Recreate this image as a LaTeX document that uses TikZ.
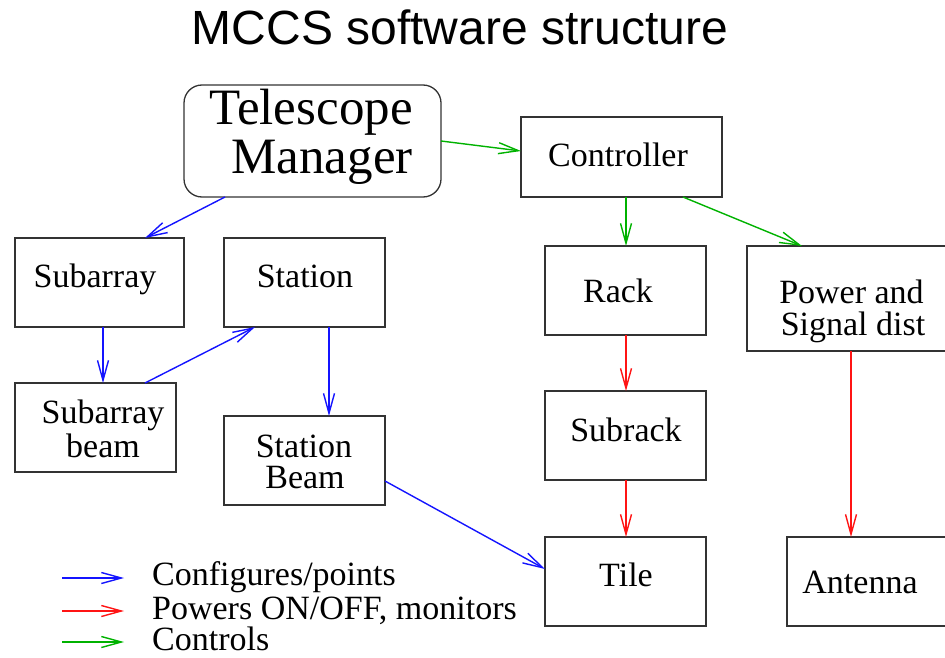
\documentclass[tikz,border=0pt]{standalone}
\usepackage{fontspec}
\setmainfont{Liberation Serif}
\newfontfamily\titlefont{Liberation Sans}
\usetikzlibrary{arrows.meta}
\definecolor{cfgblue}{RGB}{20,20,255}
\definecolor{pwrred}{RGB}{255,20,20}
\definecolor{ctlgreen}{RGB}{0,178,0}
\begin{document}
\begin{tikzpicture}[x=1pt,y=-1pt,
  box/.style={draw=black!80,line width=1.3pt,inner sep=0pt,outer sep=0pt},
  lbl/.style={anchor=base,inner sep=0pt,font=\fontsize{34}{34}\selectfont},
  biglbl/.style={anchor=base,inner sep=0pt,font=\fontsize{51}{51}\selectfont},
  link/.style={line width=1.4pt,-{Straight Barb[length=20pt,width=11pt,line width=1.4pt]}},
  cfg/.style={link,draw=cfgblue},
  pwr/.style={link,draw=pwrred},
  ctl/.style={link,draw=ctlgreen}]
\useasboundingbox (0,0) rectangle (945,658);
\clip (0,0) rectangle (945,658);

% title
\node[anchor=base,inner sep=0pt,font=\titlefont\fontsize{48}{48}\selectfont] (title) at (460,45) {MCCS software structure};

% boxes
\node[box,rounded corners=18pt,minimum width=257pt,minimum height=112pt] (tm) at (312.5,141) {};
\node[box,minimum width=201pt,minimum height=80pt] (ctrl) at (621.5,157) {};
\node[box,minimum width=169pt,minimum height=89pt] (sub) at (99.5,282.5) {};
\node[box,minimum width=161pt,minimum height=89pt] (sta) at (304.5,282.5) {};
\node[box,minimum width=161pt,minimum height=89pt] (subb) at (95.5,427.5) {};
\node[box,minimum width=161pt,minimum height=89pt] (stab) at (304.5,460.5) {};
\node[box,minimum width=161pt,minimum height=89pt] (rack) at (625.5,290.5) {};
\node[box,minimum width=161pt,minimum height=89pt] (subr) at (625.5,435.5) {};
\node[box,minimum width=161pt,minimum height=89pt] (tile) at (625.5,581.5) {};
\node[box,minimum width=205pt,minimum height=105pt] (pow) at (849.5,298.5) {};
\node[box,minimum width=165pt,minimum height=89pt] (ant) at (869.5,581.5) {};

% box texts
\node[biglbl] (tmA) at (311,125) {Telescope};
\node[biglbl] (tmB) at (322,173) {Manager};
\node[lbl] (ctrlT) at (618,166) {Controller};
\node[lbl] (subT) at (95,287) {Subarray};
\node[lbl] (staT) at (305,287) {Station};
\node[lbl] (subbA) at (103,423) {Subarray};
\node[lbl] (subbB) at (103,457) {beam};
\node[lbl] (stabA) at (304,457) {Station};
\node[lbl] (stabB) at (305,488) {Beam};
\node[lbl] (rackT) at (618,302) {Rack};
\node[lbl] (subrT) at (626,441) {Subrack};
\node[lbl] (tileT) at (626,586) {Tile};
\node[lbl] (powA) at (851.5,303) {Power and};
\node[lbl] (powB) at (853,335) {Signal dist};
\node[lbl] (antT) at (860,593) {Antenna};

% connectors
\draw[ctl] (tm.east) -- ([yshift=6pt]ctrl.west);
\draw[cfg] ([xshift=-87.5pt]tm.south) -- ([xshift=45.5pt]sub.north);
\coordinate (rackIn) at ([xshift=0.5pt]rack.north);
\draw[ctl] (rackIn |- ctrl.south) -- (rackIn);
\draw[ctl] ([xshift=61.5pt]ctrl.south) -- ([xshift=-47.5pt]pow.north);
\coordinate (subOut) at ([xshift=3.5pt]sub.south);
\draw[cfg] (subOut) -- (subOut |- subb.north);
\draw[cfg] ([xshift=49.5pt]subb.north) -- ([xshift=-49.5pt]sta.south);
\coordinate (staOut) at ([xshift=24.5pt]sta.south);
\draw[cfg] (staOut) -- (staOut |- stab.north);
\draw[cfg] ([yshift=-20.5pt]stab.east) -- ([yshift=12.5pt]tile.west);
\coordinate (rackOut) at ([xshift=0.5pt]rack.south);
\draw[pwr] (rackOut) -- (rackOut |- subr.north);
\coordinate (subrOut) at ([xshift=0.5pt]subr.south);
\draw[pwr] (subrOut) -- (subrOut |- tile.north);
\coordinate (powOut) at ([xshift=1.5pt]pow.south);
\draw[pwr] (powOut) -- (powOut |- ant.north);

% legend
\coordinate (lgA1) at (62,578);  \coordinate (lgA2) at (124,578);
\coordinate (lgB1) at (62,611);  \coordinate (lgB2) at (124,611);
\coordinate (lgC1) at (62,642);  \coordinate (lgC2) at (124,642);
\draw[cfg] (lgA1) -- (lgA2);
\draw[pwr] (lgB1) -- (lgB2);
\draw[ctl] (lgC1) -- (lgC2);
\node[lbl,anchor=base west] (lgAT) at (152,585) {Configures/points};
\node[lbl,anchor=base west] (lgBT) at (152,619) {Powers ON/OFF, monitors};
\node[lbl,anchor=base west] (lgCT) at (152,650) {Controls};
\end{tikzpicture}
\end{document}
